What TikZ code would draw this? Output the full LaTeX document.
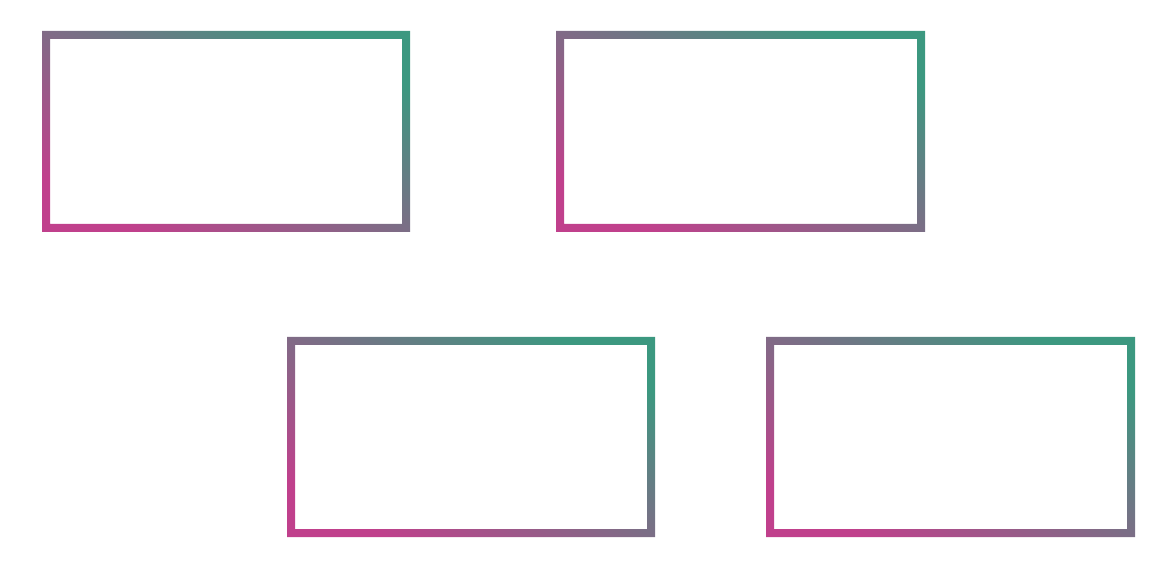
\documentclass[tikz,border=0pt]{standalone}
\usepackage{tikz}
\definecolor{boxteal}{RGB}{60,152,128}
\definecolor{boxmag}{RGB}{192,64,140}
\begin{document}
\begin{tikzpicture}[x=0.02cm,y=-0.02cm]
	\useasboundingbox (0,0) rectangle (1168,570);
	\tikzstyle{frame}=[even odd rule,left color=boxteal,right color=boxmag,shading angle=-30]
	\foreach \xa/\ya/\xb/\yb in {42/31/410/232, 556/31/925/232, 287/337/655/537, 766/337/1135/537}
	{
		\shade [frame] (\xa,\ya) rectangle (\xb,\yb) (\xa+8,\ya+8) rectangle (\xb-8,\yb-8);
	}
\end{tikzpicture}
\end{document}
